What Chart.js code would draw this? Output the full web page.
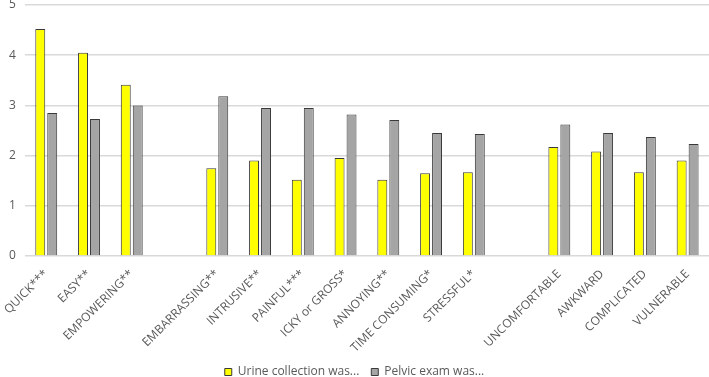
<!DOCTYPE html>
<html>
<head>
<meta charset="utf-8">
<script src="https://cdn.jsdelivr.net/npm/chart.js@4/dist/chart.umd.min.js"></script>
<style>
  html,body{margin:0;padding:0;background:#fff;}
  #wrap{width:709px;height:377px;position:relative;}
</style>
</head>
<body>
<div id="wrap"><canvas id="c"></canvas></div>
<script>
/* Urine collection vs pelvic exam ratings */
const categories = ['QUICK***','EASY**','EMPOWERING**','',
  'EMBARRASSING**','INTRUSIVE**','PAINFUL***','ICKY or GROSS*','ANNOYING**','TIME CONSUMING*','STRESSFUL*','',
  'UNCOMFORTABLE','AWKWARD','COMPLICATED','VULNERABLE'];
const urine  = [4.52,4.05,3.41,null, 1.75,1.90,1.52,1.95,1.52,1.65,1.67,null, 2.17,2.08,1.67,1.90];
const pelvic = [2.85,2.73,3.00,null, 3.18,2.95,2.95,2.82,2.71,2.45,2.43,null, 2.62,2.45,2.37,2.23];
const yTicks = [0,1,2,3,4,5];

(function(){
  const txt='#595959';
  const fam='"Open Sans", "Liberation Sans", sans-serif';
  new Chart(document.getElementById('c'),{
    type:'bar',
    data:{labels:categories,datasets:[
      {label:'Urine collection was...',data:urine,backgroundColor:'#ffff00',borderColor:'#3a3a3a',borderWidth:1,
        categoryPercentage:0.56,barPercentage:0.83},
      {label:'Pelvic exam was...',data:pelvic,backgroundColor:'#a5a5a5',borderColor:'#3a3a3a',borderWidth:1,
        categoryPercentage:0.56,barPercentage:0.83}
    ]},
    options:{responsive:true,maintainAspectRatio:false,animation:false,
      layout:{padding:{top:5,right:0,left:0,bottom:-11}},
      scales:{
        x:{grid:{display:false},border:{display:false},
          afterFit:function(s){s.paddingLeft=0;s.paddingRight=0;s.height=98;},
          ticks:{color:txt,font:{family:fam,size:12},minRotation:45,maxRotation:45,autoSkip:false,padding:3}},
        y:{min:0,max:5,border:{display:false},
          afterFit:function(s){s.paddingTop=0;s.paddingBottom=0;},
          afterBuildTicks:function(s){s.ticks=yTicks.map(function(v){return {value:v};});},
          grid:{color:'#d9d9d9',lineWidth:1.5,drawTicks:false},
          ticks:{color:txt,font:{family:fam,size:12},padding:9}}
      },
      plugins:{legend:{position:'bottom',labels:{color:txt,font:{family:fam,size:12},boxWidth:7,boxHeight:7,padding:12}},
        tooltip:{enabled:false}}
    }
  });
})();
</script>
</body>
</html>
